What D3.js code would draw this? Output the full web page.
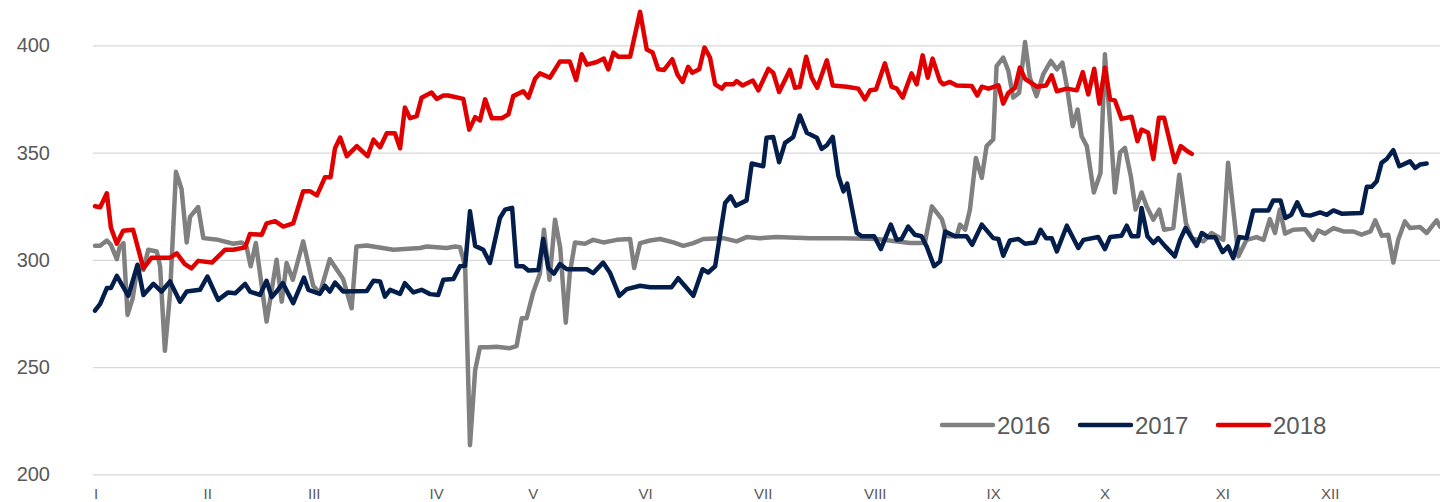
<!DOCTYPE html>
<html>
<head>
<meta charset="utf-8">
<script src="https://cdn.jsdelivr.net/npm/d3@7"></script>
<style>
  body { margin: 0; background: #fff; }
  svg { display: block; font-family: "Liberation Sans", Arial, sans-serif; }
  .grid line { stroke: #d9d9d9; stroke-width: 1.3; }
  .ylab, .xlab, .leg { fill: #595959; }
  .series { fill: none; stroke-width: 4.5; stroke-linejoin: round; stroke-linecap: round; }
</style>
</head>
<body>
<svg width="1440" height="502"></svg>
<script>
// month labels and where they sit (day of year)
var monthLabels = ['I','II','III','IV','V','VI','VII','VIII','IX','X','XI','XII'];
var monthDays = [0.3, 30.5, 59.3, 92.4, 118.5, 148.9, 180.7, 211, 243, 273.1, 305, 334];
var yTicks = [200, 250, 300, 350, 400];
var years = ['2016', '2017', '2018'];

// [day of year, value]
var s2016 = [[0,306.5],[1.4,306.5],[3.2,309],[4.3,307],[5.9,300.3],[6.6,305.5],[7.7,307.8],[8.8,274.3],[10.2,282.1],[11.5,297],
  [13.1,295.3],[14.4,304.7],[16.7,303.9],[17.6,297],[18.9,257.6],[20.3,284.4],[21.9,341],[23.4,333],[24.8,308.1],[25.7,320],
  [27.9,324.6],[29.3,310.1],[33.3,309.3],[37.4,307.5],[39.7,308.1],[41,305.9],[42.1,297],[43.5,307.8],[46.4,271.2],[49.1,300],
  [50.5,280.5],[51.8,298.5],[53.5,290.7],[56.3,308.6],[59,287.9],[60.8,284.4],[63.5,300.3],[67.1,291],[69.4,277.4],[70.7,306.2],
  [73.5,306.7],[80.7,304.7],[87.9,305.5],[89.7,306.2],[95.1,305.5],[97.4,306.2],[98.7,305.9],[100.1,297],[101.4,213.6],[102.8,248.6],
  [104.1,259.2],[106.4,259.2],[108.6,259.5],[112.2,258.8],[114,259.8],[115.4,272.8],[116.7,272.8],[118.5,284.8],[120.3,293.5],[121.4,314],
  [122.9,290.7],[124.4,318.7],[125.8,305.5],[127.3,270.7],[128.4,293.8],[129.8,308.1],[132.5,307.5],[134.7,309.3],[137.5,308.1],[141.1,309.3],
  [144.7,309.7],[145.8,296.2],[147.4,307.8],[150.1,309],[152.8,309.7],[156.4,308.1],[159.1,306.5],[161.8,307.8],[164.5,309.7],[169.9,310.1],
  [173.5,308.6],[176.2,310.6],[179.8,310.1],[184.3,310.6],[193.3,310.1],[202.4,310.1],[211.4,309.7],[220.4,307.8],[224.4,307.8],[226.3,324.9],
  [229,319],[230.3,311],[233,311],[233.9,316.4],[235.3,314],[236.6,323.4],[238.2,347.5],[239.8,338.2],[241.1,353],[242.9,356.1],
  [243.8,390.3],[245.6,394.3],[247,388],[248.3,375.6],[249.9,377.9],[251.5,401.5],[252.8,384.9],[254.6,376.3],[256.4,386.4],[258.5,392.7],
  [260.1,388.8],[261.6,391.9],[262.8,381],[264.4,362.3],[265.7,370.1],[266.8,357.6],[268.2,353],[270.1,331.4],[271.9,340.5],[273.1,395.8],
  [274.7,359.2],[275.8,331.4],[277.2,350.1],[278.5,352.2],[280.1,339],[281.4,323.4],[283,331.4],[284.4,324.9],[286.2,318.7],[287.8,323.4],
  [289.1,314],[291.6,314.8],[293.2,339.7],[295,317.1],[296.6,310.1],[299.7,308.6],[301.9,312.5],[305.1,309.3],[306.4,345.2],[309.2,301.6],
  [311.4,309.3],[314.1,310.6],[316,309.3],[317.7,319],[319.1,312.5],[320.4,323.4],[321.8,312.2],[324,314],[327.2,314.3],[329.4,309.3],
  [330.8,313.7],[332.6,312.2],[334.9,314.8],[337.6,313.2],[340.3,313.2],[342.5,311.7],[344.9,313.2],[346.2,318.4],[348,311.2],[349.7,311.7],
  [351.1,298.7],[352.4,309.3],[354.2,317.9],[355.6,314.8],[358.3,315.3],[360.1,312.5],[362.8,318.4],[363.7,315.5]];

var s2017 = [[0,276.3],[1.4,279.4],[3.2,286.8],[4.3,286.8],[5.9,292.5],[9,283.2],[11.5,297.7],[13.1,283.6],[15.8,288.8],[18,285.2],
  [20.3,289.9],[23,280.5],[24.8,285.2],[28.4,286],[30.4,292.2],[33.3,281.3],[36,284.8],[37.9,284.4],[40.6,288.8],[41.9,285.2],
  [44.6,283.6],[46.4,290.2],[47.8,282.6],[49.1,285.2],[50.8,289.1],[53.6,279.8],[56.5,291.7],[57.7,286],[60.8,284.1],[62.2,287.9],
  [63.5,285.2],[64.9,289.4],[67.1,285.2],[73.5,285.5],[75.3,290.2],[77.1,289.9],[78.4,282.8],[79.8,286],[82.5,284.1],[83.8,289.1],
  [86.1,284.8],[88.3,286],[90.6,284],[92.8,283.6],[94.2,290.7],[96.9,291],[98.7,297],[100.1,297.2],[101.4,322.6],[102.8,306.5],
  [105,304.7],[106.8,298.5],[109.5,319.5],[110.9,323.4],[112.8,324.2],[114,297],[115.8,297],[117.2,295],[119.9,295.3],[121.2,309.7],
  [122.6,296.2],[124.1,293.5],[125.7,298],[127.6,295.6],[133,295.6],[134.7,293.8],[137.4,298.7],[139.3,293.8],[141.8,283.2],[143.8,286.3],
  [147.4,287.9],[150.1,287.2],[155.9,287.2],[157.7,291.4],[161.8,283.2],[164.3,295.6],[165.8,294.1],[167.7,297],[170.4,326.5],[171.9,329.6],
  [173.3,325.2],[176.2,327.7],[177.6,344.9],[180.7,343.6],[181.6,356.9],[183.4,357.3],[185,345.5],[186.6,354.5],[188.8,357.2],[190.6,367.3],
  [192.5,359.2],[195.2,356.9],[196.5,351.7],[197.9,353.4],[199.5,357.3],[201,339.3],[202.4,331.9],[203.4,335.5],[206,312.5],[207.3,311],
  [210.7,311],[212.5,305],[215.2,316.4],[216.8,309.3],[218.1,309.7],[219.9,315.5],[221.7,311.7],[223.5,311],[224.9,306.2],[226.9,297],
  [228.5,299.2],[229.9,313.2],[232.6,311],[235.7,311],[237.2,307],[239.8,316.4],[242.9,310.1],[244.3,309.7],[245.6,301.9],[247.4,309],
  [249.7,309.7],[251.5,307.5],[254.2,308.1],[255.7,314],[257.2,310.1],[258.7,310.1],[260.1,303.9],[262.8,315.9],[265.9,305.5],[267.3,309.3],
  [271.3,310.6],[273.1,305],[274.5,310.6],[277.6,311.2],[279,315.9],[280.3,311],[282.1,311],[283,324.2],[284.6,311],[286.2,307.8],
  [287.5,310.1],[289.3,306.5],[292,301.6],[293.4,309.3],[294.9,314.8],[297.9,306.5],[299.3,312.5],[301.1,310.5],[302.9,310.5],[304.9,303.6],
  [306.4,306.2],[307.8,300.8],[309.4,310.6],[311.4,310.1],[313.2,323],[317.3,323],[318.6,327.6],[320.6,327.6],[321.9,319.5],[323.5,321],
  [325.1,326.8],[326.7,321],[328.6,320.6],[331.3,322.1],[333.1,321],[334.9,323],[337.1,321.5],[342.5,321.8],[343.9,334],[345.2,334],
  [346.6,336.6],[347.9,345.2],[349.3,347],[351.1,351.1],[352.7,343.6],[355.6,345.9],[357,342.8],[358.3,344.4],[360.1,344.9]];

var s2018 = [[0,325],[1.4,324.5],[3.2,331],[4.3,315],[5.9,307.5],[7.6,313.5],[10.3,314],[13.1,296],[15.3,301],[20.3,301],
  [22.1,303],[24.3,298],[26.1,296],[27.9,299.5],[31.6,298.7],[35.2,304.7],[37.4,304.7],[40.6,305.8],[41.9,312],[45.1,311.7],
  [46.4,317],[48.7,318],[50.9,315.5],[53.6,317],[54.5,322],[56.3,332],[58.1,332],[60,330],[62.2,338.5],[63.7,338.5],
  [64.9,352],[66.3,357],[68.1,348.3],[70.8,353],[73.7,348.3],[75.3,356],[77.1,352.5],[78.9,359],[81.1,359],[82.5,352],
  [83.8,371],[85.2,366],[87,367],[88.3,375.5],[91,378],[92.4,375],[94.2,376.6],[95.5,376.6],[99.6,375],[101.2,360.7],
  [102.8,366.5],[104.1,365],[105.5,374.8],[107.3,366],[110,366],[111.8,367.8],[113.1,376.3],[115.8,378.6],[117.2,375.6],[119,384.4],
  [120.3,386.9],[123,384.9],[125.7,392.4],[128.4,392.4],[130.1,383.8],[131.6,395.8],[133,391],[135.7,392.2],[137.6,393.8],[138.8,388.8],
  [140.2,396.6],[141.5,394.7],[144.7,394.7],[147.4,415.6],[149.2,398],[150.8,396.6],[152.3,388.8],[153.9,388.5],[156.1,393.5],[157.5,386.4],
  [158.9,382.9],[160.4,390],[161.5,387.2],[163.4,388.8],[164.8,399],[166.3,394.3],[167.7,381.8],[169.5,379.8],[170.4,381.8],[172.6,381.8],
  [173.5,383.3],[175.1,381.3],[177.9,383.6],[179.4,379],[182.1,389],[183.4,387.2],[185,378.2],[187.9,388.5],[189.3,380.2],[190.6,380.7],
  [192.3,394.7],[193.8,384.9],[195.3,380.2],[197.9,393],[199.5,381.3],[203.3,380.7],[206.4,379.8],[208.2,374.8],[209.6,379],[211.2,379.4],
  [213.6,391.6],[215.4,380.7],[216.8,379.8],[218.4,375.6],[220.8,386.9],[222.2,381.8],[223.8,395.3],[225.2,384.9],[226.5,393.8],[228.5,383.3],
  [229.4,381.8],[231.2,382.9],[233,381.3],[237.1,381],[238.6,376.6],[239.8,380.7],[241.6,379.8],[244.3,381.3],[245.6,372.8],[247,377.9],
  [248.8,380.2],[250.1,389.6],[251.5,384.4],[254.7,380.7],[257.2,381.3],[258.7,386],[260.1,378.6],[262.8,379.8],[265.5,379],[267.1,387.5],
  [268.6,377.1],[270.2,389.1],[271.6,372.8],[273.1,389.6],[274.5,374.8],[275.8,374.3],[277.6,365.7],[280.3,366.7],[281.9,355.3],[283,360.7],
  [284.8,359.2],[286.2,347],[287.7,366.2],[289.1,366.2],[292,345.5],[293.6,353],[295.4,350.6],[296.6,349.4]];

var seriesData = [s2016, s2017, s2018];
var colors = ['#808080', '#041e4c', '#e00000'];

var svg = d3.select('svg');

// scales
var xScale = d3.scaleLinear()
  .domain([0, 365])
  .range([95, 95 + 365 * 3.698]);

var yScale = d3.scaleLinear()
  .domain([200, 400])
  .range([474.3, 45.3]);

// gridlines
var yAxis = d3.axisLeft(yScale)
  .tickValues(yTicks)
  .tickSize(-(1440 - 93))
  .tickFormat('');

svg.append('g')
  .attr('class', 'grid')
  .attr('transform', 'translate(93,0)')
  .call(yAxis)
  .call(g => g.select('.domain').remove());

// y labels
svg.selectAll('.ylab')
  .data(yTicks)
  .enter().append('text')
  .attr('class', 'ylab')
  .attr('x', 50)
  .attr('y', d => yScale(d))
  .attr('dy', '0.35em')
  .attr('text-anchor', 'end')
  .style('font-size', '20px')
  .text(d => d);

// month labels
svg.selectAll('.xlab')
  .data(monthLabels)
  .enter().append('text')
  .attr('class', 'xlab')
  .attr('x', (d, i) => xScale(monthDays[i]))
  .attr('y', 498.5)
  .attr('text-anchor', 'middle')
  .style('font-size', '15px')
  .text(d => d);

// lines
var line = d3.line()
  .x(d => xScale(d[0]))
  .y(d => yScale(d[1]));

svg.selectAll('.series')
  .data(seriesData)
  .enter().append('path')
  .attr('class', 'series')
  .attr('stroke', (d, i) => colors[i])
  .attr('d', line);

// legend
var legendX = [940, 1078, 1216];
var legend = svg.selectAll('.legItem')
  .data(years)
  .enter().append('g')
  .attr('class', 'legItem')
  .attr('transform', (d, i) => 'translate(' + legendX[i] + ',425)');

legend.append('line')
  .attr('x1', 2).attr('x2', 53)
  .attr('stroke', (d, i) => colors[i])
  .attr('stroke-width', 4.5)
  .attr('stroke-linecap', 'round');

legend.append('text')
  .attr('class', 'leg')
  .attr('x', 57)
  .attr('y', 8.5)
  .style('font-size', '24px')
  .text(d => d);
</script>
</body>
</html>
